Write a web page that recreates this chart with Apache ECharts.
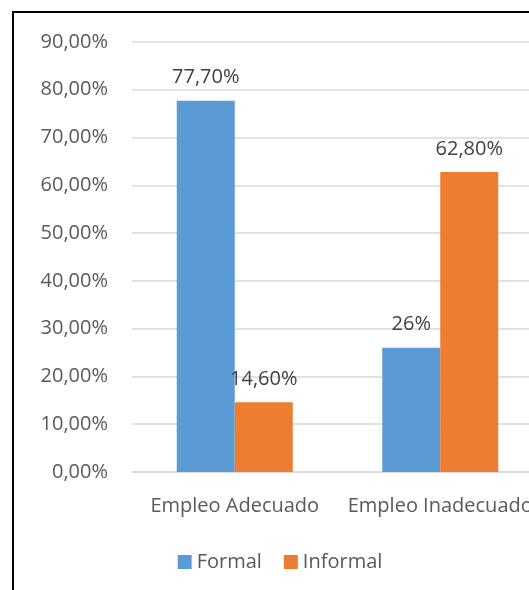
<!DOCTYPE html>
<html>
<head>
<meta charset="utf-8">
<script src="https://cdn.jsdelivr.net/npm/echarts@6/dist/echarts.min.js"></script>
<style>
html,body{margin:0;padding:0;width:529px;height:590px;overflow:hidden;background:#fff;}
#chart{position:absolute;left:0;top:0;width:560px;height:590px;}
#frame{position:absolute;left:12px;top:11px;width:600px;height:620px;border-left:2px solid #000;border-top:2px solid #000;pointer-events:none;}
</style>
</head>
<body>
<div id="chart"></div>
<div id="frame"></div>
<script>
const categories = ['Empleo Adecuado', 'Empleo Inadecuado'];
const formalValues = [77.7, 26];
const informalValues = [14.6, 62.8];
const formalLabels = ['77,70%', '26%'];
const informalLabels = ['14,60%', '62,80%'];
const seriesNames = ['Formal', 'Informal'];

const chart = echarts.init(document.getElementById('chart'), null, {renderer: 'canvas'});
const font = '"Open Sans", "Noto Sans", sans-serif';
chart.setOption({
  animation: false,
  textStyle: {fontFamily: font},
  color: ['#5B9BD5', '#ED7D31'],
  grid: {left: 132, right: 17, top: 42, bottom: 118, containLabel: false},
  legend: {
    data: seriesNames,
    bottom: 13,
    left: 'center',
    icon: 'rect',
    itemWidth: 14,
    itemHeight: 14,
    itemGap: 22,
    textStyle: {fontSize: 20, color: '#595959', fontFamily: font}
  },
  xAxis: {
    type: 'category',
    data: categories,
    axisLine: {lineStyle: {color: '#D9D9D9', width: 1.5}},
    axisTick: {show: false},
    axisLabel: {fontSize: 20, color: '#595959', margin: 24, fontFamily: font, interval: 0}
  },
  yAxis: {
    type: 'value',
    min: 0,
    max: 90,
    interval: 10,
    axisLine: {show: false},
    axisTick: {show: false},
    splitLine: {lineStyle: {color: '#D9D9D9', width: 1.5}},
    axisLabel: {
      fontSize: 20, color: '#595959', margin: 24, fontFamily: font,
      formatter: v => v.toFixed(2).replace('.', ',') + '%'
    }
  },
  series: [
    {
      name: seriesNames[0], type: 'bar', data: formalValues,
      barWidth: 58, barGap: '0%',
      label: {show: true, position: 'top', distance: 13, fontSize: 20, color: '#404040', fontFamily: font,
        formatter: p => formalLabels[p.dataIndex]}
    },
    {
      name: seriesNames[1], type: 'bar', data: informalValues,
      barWidth: 58, barGap: '0%',
      label: {show: true, position: 'top', distance: 13, fontSize: 20, color: '#404040', fontFamily: font,
        formatter: p => informalLabels[p.dataIndex]}
    }
  ]
});
</script>
</body>
</html>
